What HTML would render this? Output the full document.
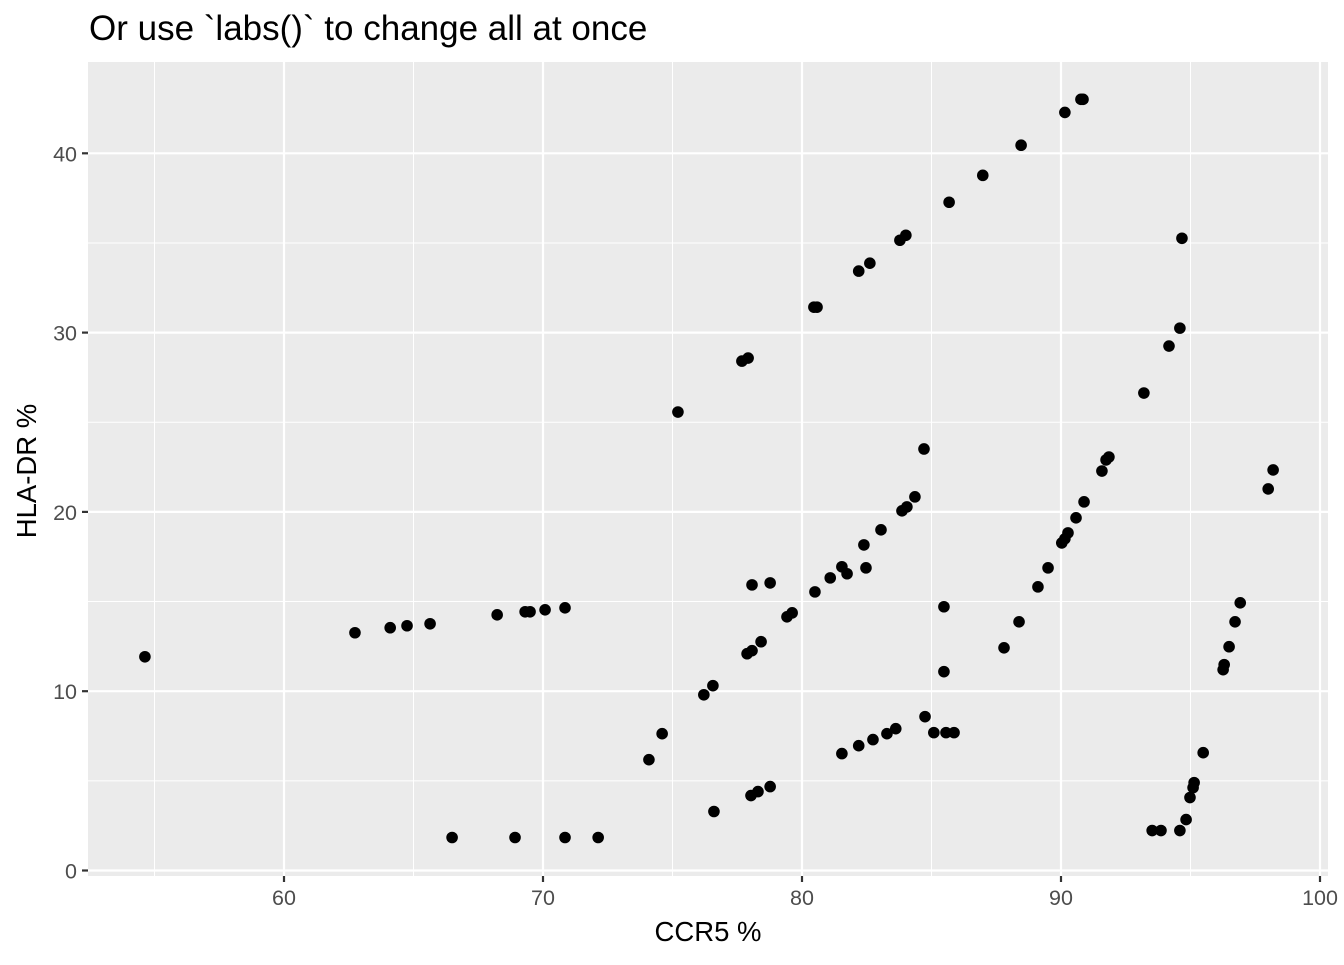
<!DOCTYPE html>
<html><head><meta charset="utf-8"><style>
body{margin:0;background:#fff;}
svg text{font-family:"Liberation Sans",Arial,sans-serif;}
</style></head><body>
<svg id="c" width="1344" height="960" xmlns="http://www.w3.org/2000/svg">
<text x="89" y="40" font-size="35" fill="#000">Or use `labs()` to change all at once</text>
<text x="708" y="941" font-size="27.5" text-anchor="middle" fill="#000">CCR5 %</text>
<text x="0" y="0" font-size="27.5" text-anchor="middle" fill="#000" transform="translate(36,471) rotate(-90)">HLA-DR %</text>
</svg>
<script>
const ccr5 = [54.63,62.74,64.10,64.75,65.64,68.23,69.31,69.50,70.08,70.85,
66.49,68.92,70.85,72.13,
74.09,74.60,76.21,76.56,76.60,
75.21,77.68,77.92,80.46,80.58,82.19,82.62,83.78,84.01,85.68,86.98,88.46,90.15,90.77,90.85,
77.88,78.07,78.42,79.42,79.62,78.07,78.77,80.50,81.09,81.54,81.74,82.47,82.39,83.05,83.86,84.05,84.36,84.71,
78.03,78.30,78.77,81.54,82.19,82.74,83.28,83.62,84.75,85.09,85.56,85.87,85.48,85.48,
87.80,88.38,89.11,89.50,90.03,90.15,90.27,90.58,90.89,91.58,91.74,91.85,
93.20,94.17,94.59,94.67,
93.52,93.86,94.59,94.83,94.98,95.10,95.14,95.49,96.26,96.30,96.49,96.72,96.92,98.00,98.19];
const hladr = [11.92,13.26,13.54,13.65,13.76,14.26,14.43,14.43,14.54,14.65,
1.84,1.84,1.84,1.84,
6.18,7.63,9.8,10.31,3.29,
25.57,28.41,28.58,31.42,31.42,33.43,33.87,35.15,35.43,37.27,38.77,40.45,42.28,43.01,43.01,
12.09,12.26,12.76,14.15,14.37,15.93,16.04,15.54,16.32,16.94,16.55,16.88,18.16,19.0,20.06,20.28,20.84,23.51,
4.18,4.4,4.68,6.52,6.96,7.3,7.63,7.91,8.58,7.69,7.69,7.69,14.71,11.09,
12.42,13.87,15.82,16.88,18.27,18.5,18.83,19.67,20.56,22.28,22.9,23.06,
26.63,29.25,30.25,35.26,
2.23,2.23,2.23,2.84,4.07,4.62,4.9,6.57,11.2,11.48,12.48,13.87,14.93,21.28,22.34];
const xTicks = [60,70,80,90,100];
const xMinor = [55,65,75,85,95];
const yTicks = [0,10,20,30,40];
const yMinor = [5,15,25,35];

const NS="http://www.w3.org/2000/svg";
const svg=document.getElementById('c');
const P={l:88,r:1328,t:62,b:876};
function sx(v){return 284+(v-60)*25.9;}
function sy(v){return 870.5-v*17.93;}
function mk(t,a){const e=document.createElementNS(NS,t);for(const k in a)e.setAttribute(k,a[k]);svg.appendChild(e);return e;}
const bg=mk('rect',{x:P.l,y:P.t,width:P.r-P.l,height:P.b-P.t,fill:'#ebebeb'});


xMinor.forEach(v=>{const l=mk('line',{x1:sx(v),x2:sx(v),y1:P.t,y2:P.b,stroke:'#fff','stroke-width':1});

});
yMinor.forEach(v=>{const l=mk('line',{x1:P.l,x2:P.r,y1:sy(v),y2:sy(v),stroke:'#fff','stroke-width':1});

});
xTicks.forEach(v=>{const l=mk('line',{x1:sx(v),x2:sx(v),y1:P.t,y2:P.b,stroke:'#fff','stroke-width':2.2});


const t=mk('line',{x1:sx(v),x2:sx(v),y1:P.b,y2:P.b+6,stroke:'#333','stroke-width':2.2});


const tx=mk('text',{x:sx(v),y:P.b+29,'font-size':21.5,'text-anchor':'middle',fill:'#4d4d4d'});tx.textContent=v;

});
yTicks.forEach(v=>{const l=mk('line',{x1:P.l,x2:P.r,y1:sy(v),y2:sy(v),stroke:'#fff','stroke-width':2.2});


const t=mk('line',{x1:P.l-6,x2:P.l,y1:sy(v),y2:sy(v),stroke:'#333','stroke-width':2.2});


const tx=mk('text',{x:P.l-11,y:sy(v)+8,'font-size':21.5,'text-anchor':'end',fill:'#4d4d4d'});tx.textContent=v;

});
ccr5.forEach((v,i)=>{const c=mk('circle',{cx:sx(v),cy:sy(hladr[i]),r:5.8,fill:'#000'});

});
</script>
</body></html>
